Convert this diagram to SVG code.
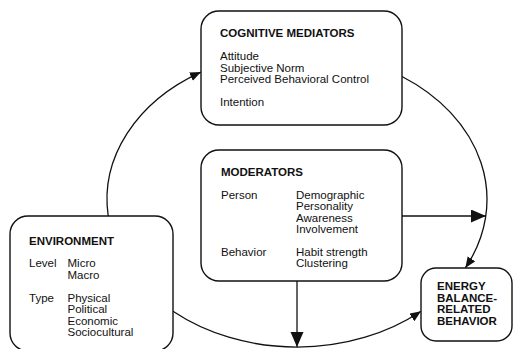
<svg xmlns="http://www.w3.org/2000/svg" width="513" height="349" viewBox="0 0 513 349">
<style>
.box{fill:#fff;stroke:#111;stroke-width:1.4}
.t{font-family:"Liberation Sans",Arial,sans-serif;font-size:11.5px;fill:#111}
.b{font-weight:bold}
.c{fill:none;stroke:#111;stroke-width:1.3}
</style>
<defs>
<marker id="sm" markerUnits="userSpaceOnUse" markerWidth="12" markerHeight="10" refX="11" refY="4.5" orient="auto">
<path d="M0,0 L11,4.5 L0,9 z" fill="#111"/>
</marker>
<marker id="lg" markerUnits="userSpaceOnUse" markerWidth="16" markerHeight="14" refX="15" refY="6.5" orient="auto">
<path d="M0,0 L15,6.5 L0,13 z" fill="#111"/>
</marker>
</defs>
<rect width="513" height="349" fill="#fff"/>
<g id="connectors">
<path class="c" d="M108.2,216 A190,147.6 0 0 1 201,72.1" marker-end="url(#sm)"/>
<path class="c" d="M402,76.5 A190,147.6 0 0 1 465.3,268" marker-end="url(#sm)"/>
<path class="c" d="M173,311.3 A190,147.6 0 0 0 421,311.3" marker-end="url(#sm)"/>
<path class="c" d="M402,216 L486,216" marker-end="url(#lg)"/>
<path class="c" d="M297,281 L297,347" marker-end="url(#lg)"/>
</g>
<g id="cognitive">
<rect class="box" x="201" y="11" width="201" height="114" rx="18" ry="18"/>
<text class="t b" x="220" y="37">COGNITIVE MEDIATORS</text>
<text class="t" x="220" y="60">Attitude</text>
<text class="t" x="220" y="71.5">Subjective Norm</text>
<text class="t" x="220" y="83">Perceived Behavioral Control</text>
<text class="t" x="220" y="106">Intention</text>
</g>
<g id="moderators">
<rect class="box" x="201" y="150" width="201" height="131" rx="18" ry="18"/>
<text class="t b" x="221" y="176">MODERATORS</text>
<text class="t" x="221" y="198.5">Person</text>
<text class="t" x="296" y="198.5">Demographic</text>
<text class="t" x="296" y="210">Personality</text>
<text class="t" x="296" y="221.5">Awareness</text>
<text class="t" x="296" y="233">Involvement</text>
<text class="t" x="221" y="255.5">Behavior</text>
<text class="t" x="296" y="255.5">Habit strength</text>
<text class="t" x="296" y="267">Clustering</text>
</g>
<g id="environment">
<rect class="box" x="10" y="216" width="163" height="135" rx="18" ry="18"/>
<text class="t b" x="29" y="245">ENVIRONMENT</text>
<text class="t" x="29" y="267">Level</text>
<text class="t" x="67.5" y="267">Micro</text>
<text class="t" x="67.5" y="278.5">Macro</text>
<text class="t" x="29" y="301.5">Type</text>
<text class="t" x="67.5" y="301.5">Physical</text>
<text class="t" x="67.5" y="313">Political</text>
<text class="t" x="67.5" y="324.5">Economic</text>
<text class="t" x="67.5" y="336">Sociocultural</text>
</g>
<g id="energy">
<rect class="box" x="421" y="268" width="91" height="73" rx="15" ry="15"/>
<text class="t b" x="437" y="290">ENERGY</text>
<text class="t b" x="437" y="301.5">BALANCE-</text>
<text class="t b" x="437" y="313">RELATED</text>
<text class="t b" x="437" y="324.5">BEHAVIOR</text>
</g>
</svg>
